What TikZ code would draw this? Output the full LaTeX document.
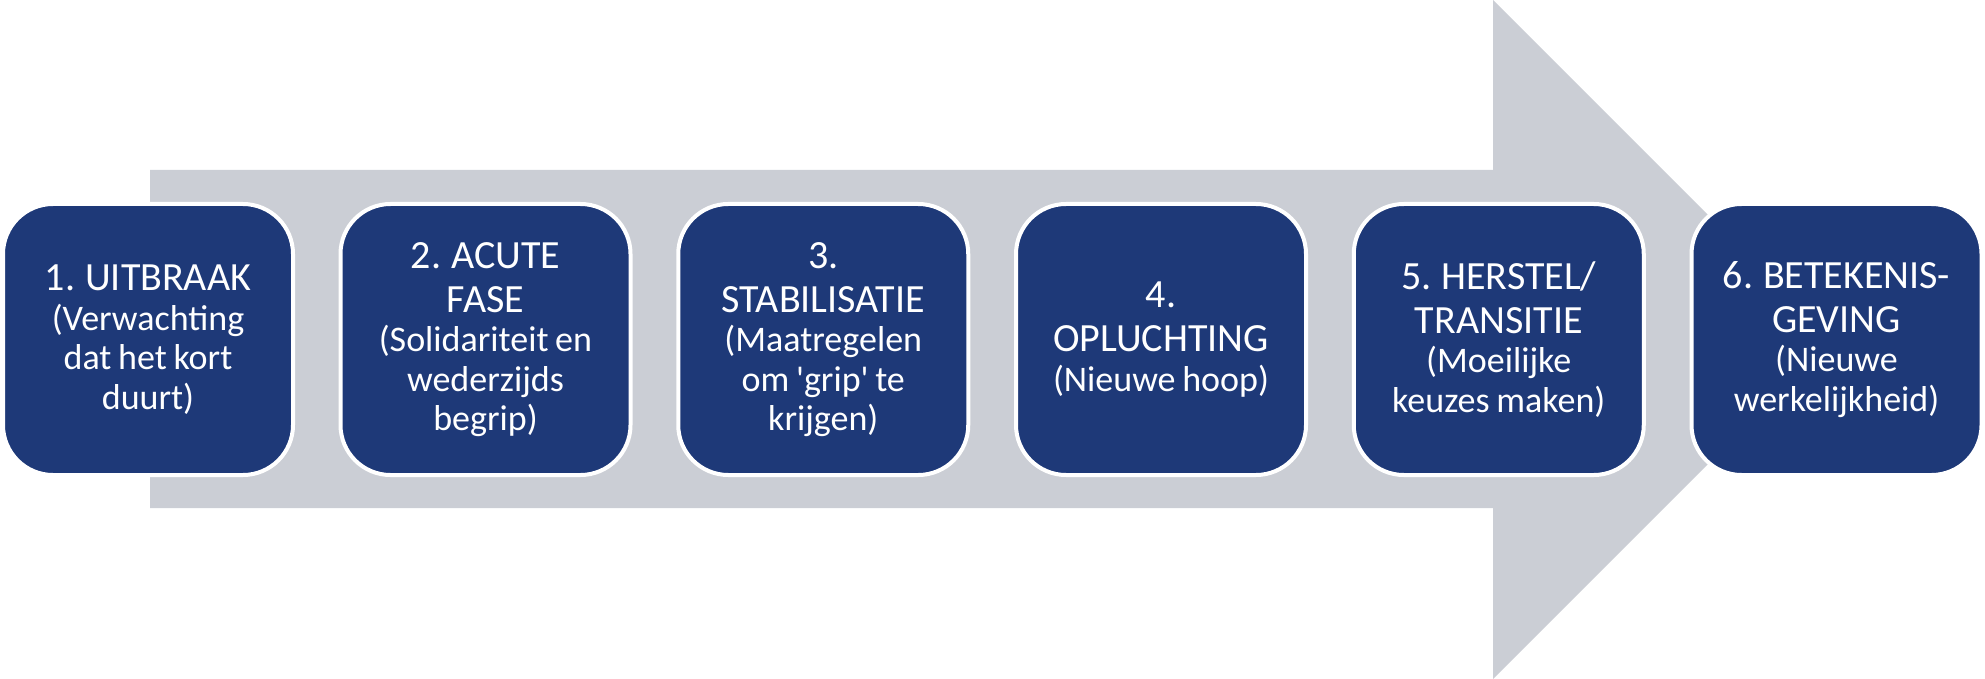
\documentclass[tikz,border=0pt]{standalone}
\usepackage{fontspec}
\setmainfont{Carlito}[Ligatures=TeXOff]
\definecolor{boxblue}{RGB}{30,57,120}
\definecolor{arrowgray}{RGB}{203,206,213}
\tikzset{
  stagebox/.style={draw=white, line width=2pt, fill=boxblue, rounded corners=25pt,
    minimum width=145pt, minimum height=135.5pt, inner sep=0pt,
    text width=140pt, align=center, text=white},
}
\newcommand{\ttl}[1]{{\fontsize{20}{22}\selectfont #1\par}}
\newcommand{\sub}[1]{{\fontsize{18}{19.75}\selectfont #1\par}}
\begin{document}
\begin{tikzpicture}[x=0.5pt,y=-0.5pt]
\useasboundingbox (0,0) rectangle (1985,679);
\fill[arrowgray] (150,170) -- (1493,170) -- (1493,0) -- (1832.5,339.5) -- (1493,679) -- (1493,508) -- (150,508) -- cycle;
\node[stagebox] (s1) at (148,339.5) {\ttl{1. UITBRAAK}\sub{(Verwachting\\dat het kort\\duurt)}};
\node[stagebox] (s2) at (485.5,339.5) {\ttl{2. ACUTE\\FASE}\sub{(Solidariteit en\\wederzijds\\begrip)}};
\node[stagebox] (s3) at (823.25,339.5) {\ttl{3.\\STABILISATIE}\sub{(Maatregelen\\om 'grip' te\\krijgen)}};
\node[stagebox] (s4) at (1161,339.5) {\ttl{4.\\OPLUCHTING}\sub{(Nieuwe hoop)}};
\node[stagebox] (s5) at (1498.75,339.5) {\ttl{5. HERSTEL/\\TRANSITIE}\sub{(Moeilijke\\keuzes maken)}};
\node[stagebox] (s6) at (1836.5,339.5) {\ttl{6. BETEKENIS-\\GEVING}\sub{(Nieuwe\\werkelijkheid)}};
\end{tikzpicture}
\end{document}
